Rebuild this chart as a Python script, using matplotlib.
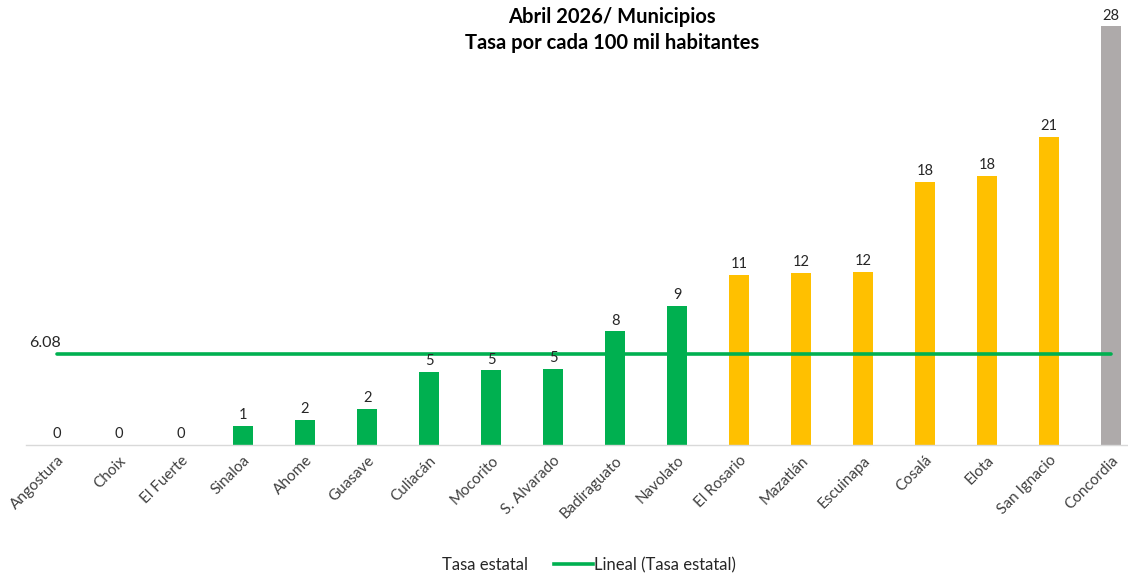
import matplotlib.pyplot as plt
from matplotlib.lines import Line2D

plt.rcParams['font.family'] = ['Lato', 'DejaVu Sans']

# Data
municipios = ['Angostura', 'Choix', 'El Fuerte', 'Sinaloa', 'Ahome', 'Guasave',
              'Culiacán', 'Mocorito', 'S. Alvarado', 'Badiraguato', 'Navolato',
              'El Rosario', 'Mazatlán', 'Escuinapa', 'Cosalá', 'Elota',
              'San Ignacio', 'Concordia']
tasa = [0, 0, 0, 1.3, 1.7, 2.4, 4.9, 5.0, 5.1, 7.6, 9.3,
        11.4, 11.5, 11.6, 17.6, 18.0, 20.6, 28.0]
grupo = ['g'] * 11 + ['y'] * 6 + ['x']
tasa_estatal = 6.08

colores = {'g': '#00B050', 'y': '#FFC000', 'x': '#AEAAAA'}

fig = plt.figure(figsize=(11.28, 5.78), dpi=100)
ax = fig.add_axes([26 / 1128, 133 / 578, 1 - 26 / 1128, 441 / 578])

x = list(range(len(municipios)))
ax.bar(x, tasa, width=0.32, color=[colores[g] for g in grupo], zorder=2)

# linear trendline of state rate (flat)
ax.plot([x[0], x[-1]], [tasa_estatal, tasa_estatal], color='#00B050', lw=2.6, zorder=3,
        solid_capstyle='round')
ax.text(x[0] - 0.45, tasa_estatal + 0.3, f'{tasa_estatal:.2f}', fontsize=11.5,
        color='#262626', ha='left', va='bottom')

for xi, v in zip(x, tasa):
    ax.text(xi, v + 0.25, f'{round(v):.0f}', ha='center', va='bottom',
            fontsize=10.5, color='#262626', zorder=4)

ax.set_xlim(-0.5, 17.27)
ax.set_ylim(0, 29.5)
ax.set_yticks([])
ax.set_xticks(x)
ax.set_xticklabels(municipios, rotation=45, ha='right', rotation_mode='anchor',
                   fontsize=11, color='#404040')
ax.tick_params(axis='x', length=0, pad=6)
for s in ['top', 'right', 'left']:
    ax.spines[s].set_visible(False)
ax.spines['bottom'].set_color('#D9D9D9')
ax.spines['bottom'].set_linewidth(1)

fig.text(612 / 1128, 1 - 17 / 578, 'Abril 2026/ Municipios', ha='center', va='center',
         fontsize=14.5, fontweight='bold', color='#000000')
fig.text(612 / 1128, 1 - 43 / 578, 'Tasa por cada 100 mil habitantes', ha='center',
         va='center', fontsize=14.5, fontweight='bold', color='#000000')

handles = [Line2D([], [], color='none'),
           Line2D([], [], color='#00B050', lw=2.6)]
fig.legend(handles, ['Tasa estatal', 'Lineal (Tasa estatal)'], loc='center',
           bbox_to_anchor=(569 / 1128, 1 - 565 / 578), ncol=2, frameon=False,
           fontsize=12, handlelength=2.3, handletextpad=0.1, columnspacing=1.6,
           labelcolor='#262626')

fig.savefig('out.png', dpi=100)
